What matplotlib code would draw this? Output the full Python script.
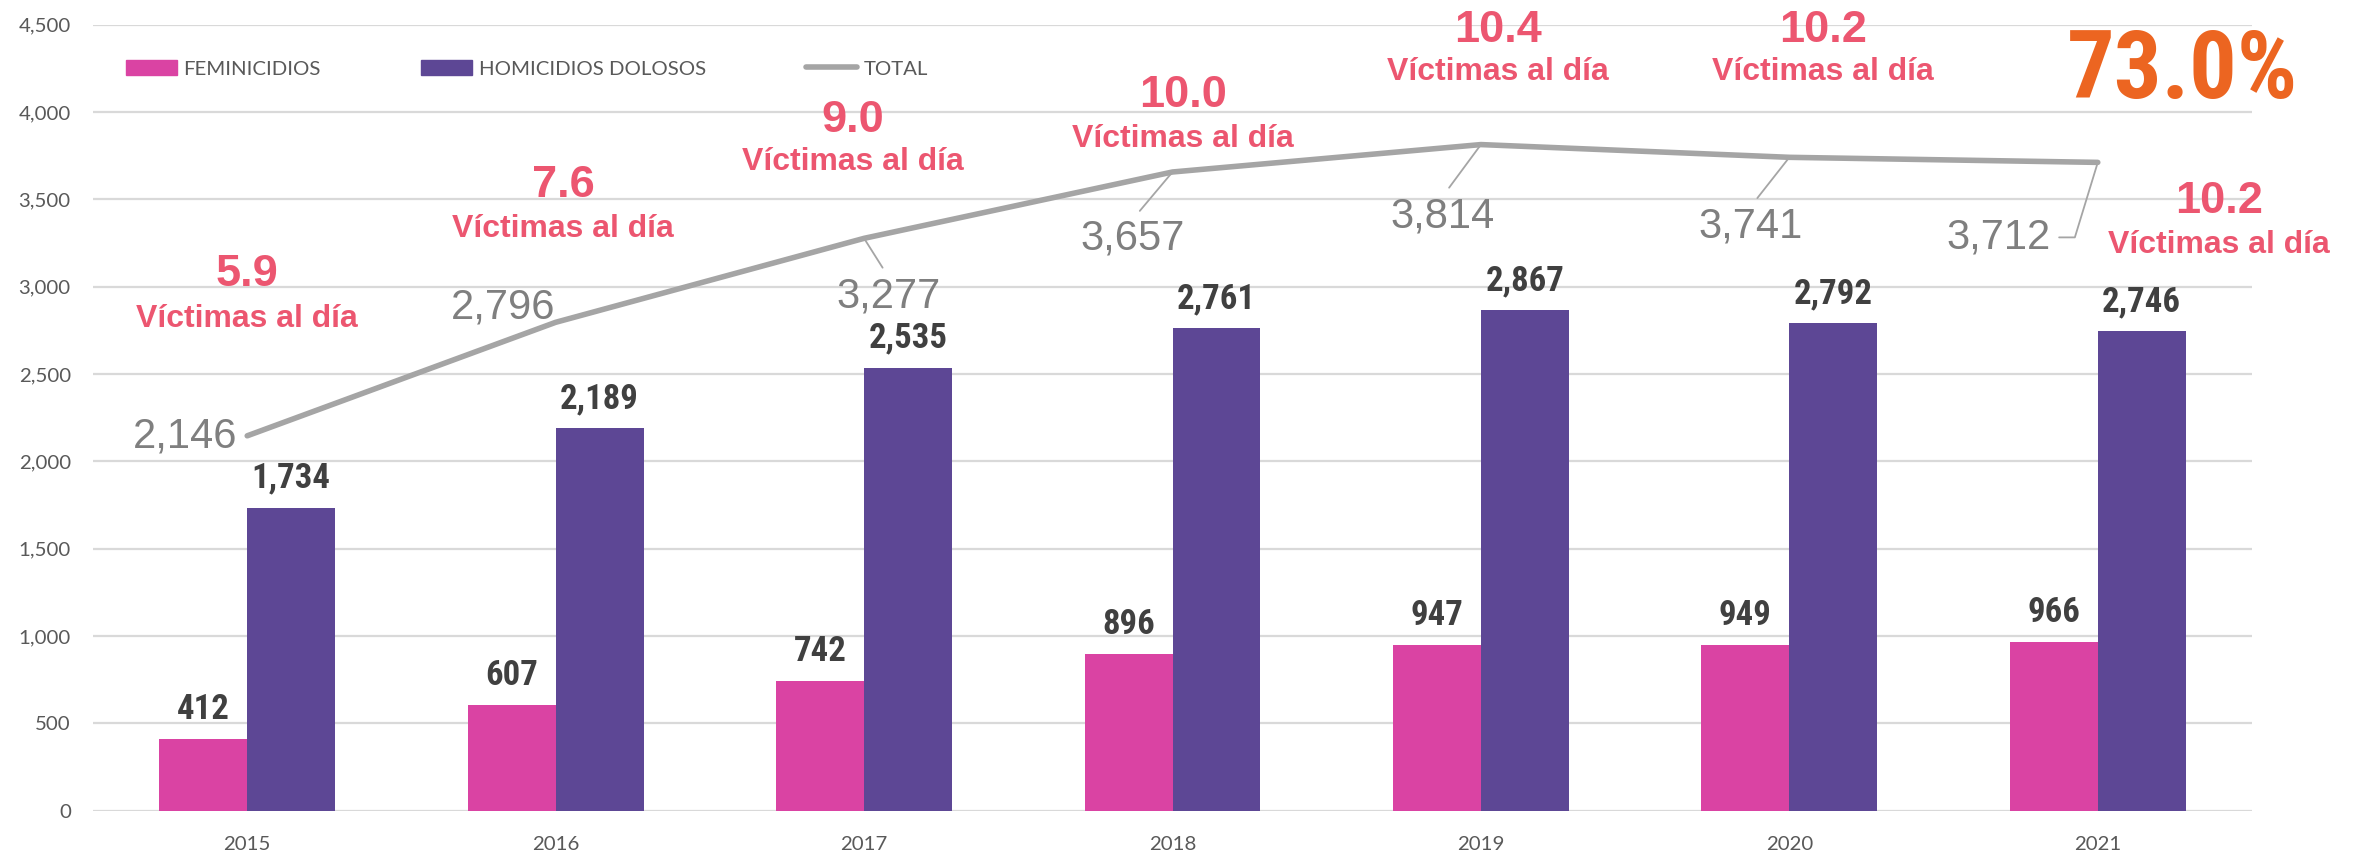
import matplotlib
matplotlib.use("Agg")
import matplotlib.pyplot as plt
from matplotlib import font_manager
from matplotlib.lines import Line2D
from matplotlib.patches import Patch
from matplotlib.ticker import FuncFormatter
import numpy as np

# data
years = ["2015", "2016", "2017", "2018", "2019", "2020", "2021"]
feminicidios = [412, 607, 742, 896, 947, 949, 966]
homicidios = [1734, 2189, 2535, 2761, 2867, 2792, 2746]
total = [2146, 2796, 3277, 3657, 3814, 3741, 3712]
per_day = ["5.9", "7.6", "9.0", "10.0", "10.4", "10.2", "10.2"]
share_label = "73.0%"

# colours
PINK = "#DA43A3"
PURPLE = "#5D4795"
LINE_GRAY = "#A5A5A5"
LABEL_GRAY = "#7F7F7F"
RED = "#EC5670"
ORANGE = "#EC6521"
DARK = "#404040"
TICK = "#595959"

fonts = font_manager.fontManager.ttflist
installed = {f.name for f in fonts}


def pick_narrow():
    # a narrow bold face similar to Arial Narrow, whatever is on the system
    for name in ["Liberation Sans Narrow", "Roboto Condensed", "Open Sans Condensed",
                 "DejaVu Sans Condensed", "Noto Sans Condensed"]:
        if name in installed:
            return dict(family=name)
    for f in fonts:
        if "condensed" in str(f.stretch) and f.weight in ("bold", 700):
            return dict(family=f.name, stretch=f.stretch)
    for f in fonts:
        if "condensed" in str(f.stretch):
            return dict(family=f.name, stretch=f.stretch)
    return dict(family="Liberation Sans")


NARROW = pick_narrow()
ARIAL = "Liberation Sans"
LIGHT = "Lato" if "Lato" in installed else "DejaVu Sans"

fig = plt.figure(figsize=(23.59, 8.55), dpi=100)
ax = fig.add_axes([93 / 2359, 1 - 810.5 / 855, (2252 - 93) / 2359, (810.5 - 24.8) / 855])

x = np.arange(len(years))
w = 0.285
ax.bar(x - w / 2, feminicidios, w, color=PINK, zorder=2)
ax.bar(x + w / 2, homicidios, w, color=PURPLE, zorder=2)
ax.plot(x, total, color=LINE_GRAY, lw=4, solid_capstyle="round", zorder=3)

ax.set_xlim(-0.5, 6.5)
ax.set_ylim(0, 4500)
ax.set_yticks(np.arange(0, 4501, 500))
ax.yaxis.set_major_formatter(FuncFormatter(lambda v, p: f"{int(v):,}"))
ax.set_xticks(x)
ax.set_xticklabels(years)
ax.grid(axis="y", color="#D9D9D9", lw=1.6, zorder=0)
ax.set_axisbelow(True)
for s in ax.spines.values():
    s.set_visible(False)
ax.tick_params(axis="y", length=0, pad=16, labelsize=14.7, labelcolor=TICK)
ax.tick_params(axis="x", length=0, pad=18, labelsize=14.7, labelcolor=TICK)
for lab in ax.get_xticklabels() + ax.get_yticklabels():
    lab.set_family(LIGHT)

# value labels on bars
for xs, vals in [(x - w / 2, feminicidios), (x + w / 2, homicidios)]:
    for xi, v in zip(xs, vals):
        ax.annotate(f"{v:,}", (xi, v), xytext=(0, 20), textcoords="offset pixels",
                    ha="center", va="baseline", fontsize=25, fontweight="bold",
                    color=DARK, zorder=4, **NARROW)

# total labels: (dx, dy, ha, leader) in pixels from the point
total_pos = [(-10, -12, "right", None), (0, 4, "right", None),
             (24, -69, "center", "lead"), (-39.5, -78, "center", "lead"),
             (-38, -82.5, "center", "lead"), (-38.5, -80, "center", "lead"),
             (-47, -86, "right", "elbow")]
for xi, v, (dx, dy, ha, lead) in zip(x, total, total_pos):
    arrow = None
    if lead == "lead":
        arrow = dict(arrowstyle="-", color=LINE_GRAY, lw=1.3, relpos=(0.5, 1),
                     shrinkA=5, shrinkB=0)
    elif lead == "elbow":
        arrow = dict(arrowstyle="-", color=LINE_GRAY, lw=1.3, relpos=(1, 0.5),
                     connectionstyle="angle,angleA=0,angleB=73,rad=0",
                     shrinkA=4, shrinkB=0)
    ax.annotate(f"{v:,}", (xi, v), xytext=(dx, dy), textcoords="offset pixels",
                ha=ha, va="baseline", fontsize=30, family=ARIAL,
                color=LABEL_GRAY, arrowprops=arrow, zorder=4)

# victims per day: (dx, number dy, subtitle dy) in pixels from the total point
rate_pos = [(0, 150, 109), (7.5, 125, 85), (-11, 106, 68), (10.5, 65, 25),
            (17, 102.5, 64.5), (33.5, 115, 77), (121, -51, -91)]
for xi, v, r, (dx, dy1, dy2) in zip(x, total, per_day, rate_pos):
    ax.annotate(r, (xi, v), xytext=(dx, dy1), textcoords="offset pixels",
                ha="center", va="baseline", fontsize=32.5, fontweight="bold",
                family=ARIAL, color=RED, zorder=5)
    ax.annotate("Víctimas al día", (xi, v), xytext=(dx, dy2), textcoords="offset pixels",
                ha="center", va="baseline", fontsize=23, fontweight="bold",
                family=ARIAL, color=RED, zorder=5)

fig.text(2183 / 2359, 1 - 98 / 855, share_label, ha="center", va="baseline",
         fontsize=68, fontweight="bold", color=ORANGE, **NARROW)

handles = [Patch(color=PINK), Patch(color=PURPLE),
           Line2D([0], [0], color=LINE_GRAY, lw=4, solid_capstyle="round")]
leg = ax.legend(handles, ["FEMINICIDIOS", "HOMICIDIOS DOLOSOS", "TOTAL"],
                loc="center left", bbox_to_anchor=(126 / 2359, 1 - 69 / 855),
                bbox_transform=fig.transFigure, ncol=3, frameon=False,
                borderpad=0, borderaxespad=0, handlelength=2.5,
                handletextpad=0.32, columnspacing=4.9,
                prop={"family": LIGHT, "size": 14.7})
for t in leg.get_texts():
    t.set_color(TICK)

fig.savefig("out.png", dpi=100)
